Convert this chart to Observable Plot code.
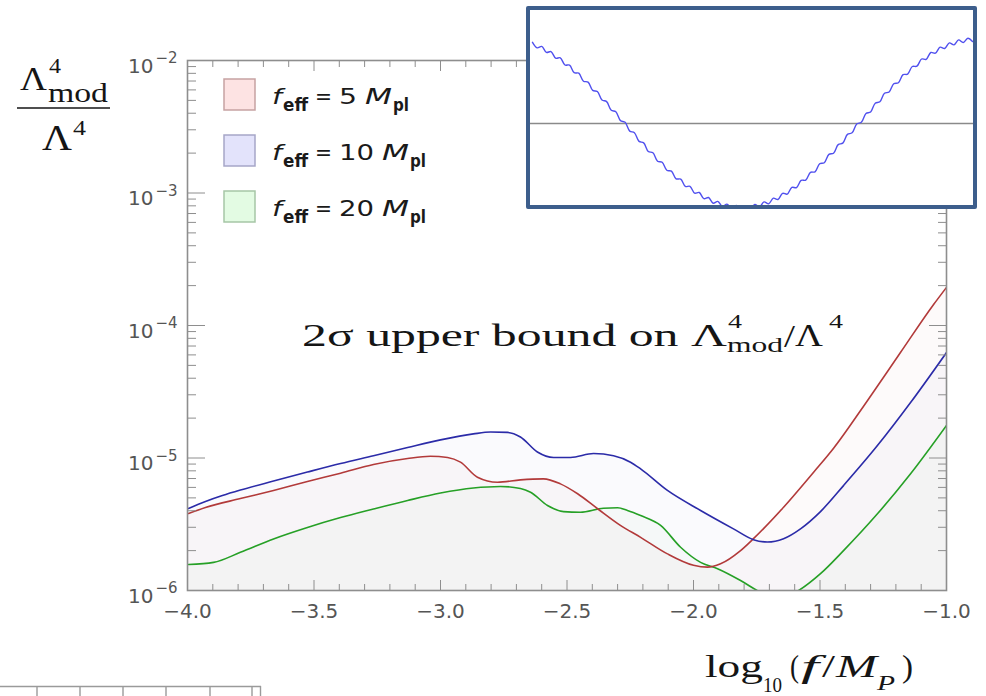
<!DOCTYPE html>
<html><head><meta charset="utf-8">
<script src="https://cdn.jsdelivr.net/npm/d3@7"></script>
<script src="https://cdn.jsdelivr.net/npm/@observablehq/plot@0.6"></script>
<style>
html,body{margin:0;padding:0;background:#fff;}
#wrap{position:relative;width:986px;height:696px;overflow:hidden;background:#fff;}
#main{position:absolute;left:0;top:0;}
#inset{position:absolute;z-index:2;left:526px;top:6px;width:451px;height:203px;box-sizing:border-box;border:4px solid #3d5e8c;border-radius:2px;background:#fff;overflow:hidden;}
#inset svg{display:block;}
</style></head><body>
<div id="wrap"><div id="main"></div><div id="inset"></div></div>
<script>
// ---------------- data ----------------
const seriesNames = ["5", "10", "20"]; // f_eff in M_pl

const redX = [-3.996,-3.929,-3.791,-3.660,-3.526,-3.395,-3.265,-3.130,-3.040,-2.972,-2.921,-2.854,-2.775,-2.684,-2.593,-2.526,-2.458,-2.379,-2.289,-2.209,-2.103,-2.000,-1.945,-1.893,-1.814,-1.763,-1.644,-1.526,-1.447,-1.312,-1.182,-1.051,-1.000];
const redY = [3.81e-6,4.23e-6,4.94e-6,5.69e-6,6.65e-6,7.68e-6,8.93e-6,9.91e-6,1.03e-5,1.01e-5,9.3e-6,7.16e-6,6.56e-6,6.84e-6,6.96e-6,6.38e-6,5.37e-6,4.14e-6,3.10e-6,2.52e-6,1.89e-6,1.55e-6,1.50e-6,1.59e-6,2.00e-6,2.46e-6,4.25e-6,7.78e-6,1.18e-5,2.72e-5,6.25e-5,1.44e-4,1.94e-4];

const blueX = [-3.996,-3.929,-3.862,-3.791,-3.660,-3.526,-3.395,-3.265,-3.130,-3.000,-2.870,-2.802,-2.735,-2.684,-2.617,-2.553,-2.486,-2.395,-2.316,-2.249,-2.209,-2.103,-1.972,-1.842,-1.763,-1.708,-1.644,-1.577,-1.498,-1.407,-1.273,-1.142,-1.000];
const blueY = [4.16e-6,4.70e-6,5.21e-6,5.73e-6,6.70e-6,7.83e-6,9.08e-6,1.04e-5,1.20e-5,1.37e-5,1.52e-5,1.57e-5,1.56e-5,1.44e-5,1.11e-5,1.01e-5,1.01e-5,1.08e-5,1.04e-5,9.3e-6,8.28e-6,5.69e-6,4.02e-6,2.92e-6,2.42e-6,2.32e-6,2.46e-6,2.92e-6,3.94e-6,6.19e-6,1.24e-5,2.62e-5,6.25e-5];

const greenX = [-3.996,-3.897,-3.791,-3.660,-3.526,-3.395,-3.265,-3.130,-3.000,-2.870,-2.763,-2.684,-2.644,-2.577,-2.514,-2.447,-2.356,-2.300,-2.261,-2.209,-2.130,-2.051,-1.972,-1.905,-1.814,-1.735,-1.668,-1.597,-1.498,-1.407,-1.273,-1.142,-1.000];
const greenY = [1.57e-6,1.63e-6,1.94e-6,2.45e-6,2.99e-6,3.55e-6,4.12e-6,4.78e-6,5.44e-6,5.94e-6,6.10e-6,5.89e-6,5.52e-6,4.38e-6,3.94e-6,3.90e-6,4.18e-6,4.21e-6,4.02e-6,3.68e-6,3.10e-6,2.12e-6,1.63e-6,1.46e-6,1.19e-6,9.7e-7,8.7e-7,9.7e-7,1.34e-6,2.00e-6,3.79e-6,7.60e-6,1.76e-5];

// inset wave (pixel-ish units relative to the horizontal axis line)
const waveY = [81.2,75.7,77.1,71.1,71.9,65.3,65.7,58.5,58.4,50.8,50.3,42.3,41.4,33.1,32.0,23.5,21.9,13.2,11.7,2.9,1.2,-7.6,-9.2,-17.9,-19.4,-28.0,-29.3,-37.7,-38.8,-46.8,-47.6,-55.3,-55.6,-62.9,-62.8,-69.6,-69.0,-75.2,-74.0,-79.7,-77.9,-83.0,-80.6,-85.0,-82.0,-85.8,-82.1,-85.3,-80.9,-83.4,-78.4,-80.3,-74.7,-76.0,-69.8,-70.6,-63.9,-64.1,-56.9,-56.6,-48.9,-48.3,-40.2,-39.2,-30.9,-29.7,-21.1,-19.6,-10.9,-9.3,-0.5,1.2,10.0,11.5,20.3,21.7,30.3,31.5,39.8,40.8,48.8,49.4,57.0,57.3,64.5,64.2,71.0,70.3,76.3,75.0,80.6,78.6,83.6,81.0,85.3,82.1];

const xTicksMajor = [-4.0,-3.5,-3.0,-2.5,-2.0,-1.5,-1.0];
const xTickLabels = ["\u22124.0","\u22123.5","\u22123.0","\u22122.5","\u22122.0","\u22121.5","\u22121.0"];
const xTicksMinor = [-3.9,-3.8,-3.7,-3.6,-3.4,-3.3,-3.2,-3.1,-2.9,-2.8,-2.7,-2.6,-2.4,-2.3,-2.2,-2.1,-1.9,-1.8,-1.7,-1.6,-1.4,-1.3,-1.2,-1.1];
const yTicksMajor = [1e-6,1e-5,1e-4,1e-3,1e-2];
const yTickBase = "10";
const yTickExponents = ["\u22126","\u22125","\u22124","\u22123","\u22122"];
const yTicksMinor = [1e-6,1e-5,1e-4,1e-3].flatMap(d => [2,3,4,5,6,7,8,9].map(m => m*d));

// ---------------- chart ----------------
const colors = {red: "#b23a3a", blue: "#2b2ba8", green: "#26a026"};
const mk = (xs, ys, s) => xs.map((x, i) => ({x, y: ys[i], s}));
const red = mk(redX, redY, seriesNames[0]);
const blue = mk(blueX, blueY, seriesNames[1]);
const green = mk(greenX, greenY, seriesNames[2]);
const FR = "#8e8e8e", TXT = "#555";
const sans = "DejaVu Sans", serif = "Liberation Serif";
const CURVE = "monotone-x";

const area = (d, c) => Plot.areaY(d, {x: "x", y1: () => 1e-6, y2: "y", fill: c, fillOpacity: 0.022, curve: CURVE, clip: true});
const line = (d, c) => Plot.line(d, {x: "x", y: "y", stroke: c, strokeWidth: 1.6, curve: CURVE, clip: true});

const plot = Plot.plot({
  width: 986, height: 696,
  marginLeft: 187, marginRight: 40, marginTop: 60, marginBottom: 106,
  style: {background: "transparent", fontFamily: sans, fontSize: "20px", color: TXT},
  x: {domain: [-4, -1], label: null},
  y: {type: "log", domain: [1e-6, 1e-2], label: null},
  marks: [
    area(green, colors.green), area(red, colors.red), area(blue, colors.blue),
    line(green, colors.green), line(red, colors.red), line(blue, colors.blue),
    Plot.axisX(xTicksMinor, {anchor: "bottom", tickSize: -6, tickFormat: () => "", stroke: FR, label: null}),
    Plot.axisX(xTicksMinor, {anchor: "top", tickSize: -6, tickFormat: () => "", stroke: FR, label: null}),
    Plot.axisX(xTicksMajor, {anchor: "top", tickSize: -10, tickFormat: () => "", stroke: FR, label: null}),
    Plot.axisX(xTicksMajor, {anchor: "bottom", tickSize: -10, tickPadding: 23, stroke: FR, fill: TXT, fontSize: 20,
      tickFormat: d => xTickLabels[xTicksMajor.indexOf(d)], label: null}),
    Plot.axisY(yTicksMinor, {anchor: "left", tickSize: -9, tickFormat: () => "", stroke: FR, label: null}),
    Plot.axisY(yTicksMinor, {anchor: "right", tickSize: -9, tickFormat: () => "", stroke: FR, label: null}),
    Plot.axisY(yTicksMajor, {anchor: "left", tickSize: -18, tickFormat: () => "", stroke: FR, label: null}),
    Plot.axisY(yTicksMajor, {anchor: "right", tickSize: -18, tickFormat: () => "", stroke: FR, label: null}),
    Plot.text(yTicksMajor, {y: d => d, text: () => yTickBase, frameAnchor: "left", textAnchor: "end", dx: -34, dy: 6, fontSize: 20, fill: TXT}),
    Plot.text(yTicksMajor, {y: d => d, text: (d, i) => yTickExponents[i], frameAnchor: "left", textAnchor: "end", dx: -10, dy: -2, fontSize: 15, fill: TXT}),
    Plot.frame({stroke: FR, strokeWidth: 1.6})
  ]
});
document.getElementById("main").appendChild(plot);

const svg = d3.select(plot);
// one <text> element with positioned pieces (tspans)
function label(pieces, o = {}) {
  const t = svg.append("text").attr("font-family", o.family || serif).attr("fill", o.fill || "#151515")
    .attr("text-anchor", "start");
  pieces.forEach(p => {
    const s = t.append("tspan").attr("x", p.x).attr("y", p.y).attr("font-size", p.size).text(p.s);
    if (p.italic) s.attr("font-style", "italic");
    if (p.bold) s.attr("font-weight", "bold");
    if (p.len) s.attr("textLength", p.len).attr("lengthAdjust", "spacingAndGlyphs");
  });
  return t;
}

// y-axis fraction label
label([
  {x: 20, y: 90, s: "\u039B", size: 34, len: 27},
  {x: 49, y: 73, s: "4", size: 22, len: 12},
  {x: 48, y: 102, s: "mod", size: 28, len: 60},
]);
svg.append("line").attr("x1", 17).attr("x2", 110).attr("y1", 108).attr("y2", 108).attr("stroke", "#151515").attr("stroke-width", 1.6);
label([
  {x: 42, y: 150, s: "\u039B", size: 36, len: 30},
  {x: 73, y: 135, s: "4", size: 22, len: 13},
]);

// annotation
label([
  {x: 302, y: 346, s: "2\u03C3 upper bound on \u039B", size: 31, len: 425},
  {x: 728, y: 328, s: "4", size: 19, len: 14},
  {x: 727, y: 352, s: "mod", size: 21, len: 56},
  {x: 784, y: 347, s: "/", size: 31, len: 11},
  {x: 795, y: 346, s: "\u039B", size: 31, len: 28},
  {x: 829, y: 328, s: "4", size: 19, len: 14},
]);

// x-axis label
label([
  {x: 705, y: 677, s: "log", size: 32, len: 58},
  {x: 763, y: 692, s: "10", size: 20, len: 19},
  {x: 790, y: 677, s: "(", size: 32, len: 9},
  {x: 801, y: 677, s: "f", size: 32, italic: true, len: 18},
  {x: 822, y: 677, s: "/", size: 32, len: 13},
  {x: 836, y: 677, s: "M", size: 32, italic: true, len: 41},
  {x: 877, y: 690, s: "P", size: 21, italic: true, len: 18},
  {x: 902, y: 677, s: ")", size: 32, len: 11},
]);

// legend
const legendFill = ["#fde3e3", "#e3e3fb", "#e3fbe3"];
const legendStroke = ["#c6a2a2", "#a6a6c8", "#a6c6a6"];
seriesNames.forEach((v, i) => {
  const top = 79 + 56 * i, b = 104 + 56 * i;
  svg.append("rect").attr("x", 224).attr("y", top).attr("width", 31).attr("height", 31)
    .attr("fill", legendFill[i]).attr("stroke", legendStroke[i]).attr("stroke-width", 1.5);
  const w = v.length === 1 ? 18 : 35;
  const mx = v.length === 1 ? 365 : 382;
  label([
    {x: 272, y: b, s: "f", size: 22, italic: true, len: 10},
    {x: 283, y: b + 7, s: "eff", size: 17, bold: true, len: 25},
    {x: 315, y: b, s: "=", size: 22, len: 17},
    {x: 339, y: b, s: v, size: 22, len: w},
    {x: mx, y: b, s: "M", size: 22, italic: true, len: 27},
    {x: mx + 28, y: b + 7, s: "pl", size: 17, bold: true, len: 16},
  ], {family: sans, fill: "#1a1a1a"});
});

// cropped frame fragment at the bottom-left edge
const frag = svg.append("g").attr("stroke", "#9a9a9a").attr("stroke-width", 1.4).attr("fill", "none");
frag.append("line").attr("x1", 0).attr("x2", 261).attr("y1", 686.5).attr("y2", 686.5);
frag.append("line").attr("x1", 260.5).attr("x2", 260.5).attr("y1", 686).attr("y2", 696);
[37, 80, 123, 166, 210].forEach(x => frag.append("line").attr("x1", x).attr("x2", x).attr("y1", 686).attr("y2", 696));
frag.append("line").attr("x1", 252).attr("x2", 252).attr("y1", 686).attr("y2", 696);

// ---------------- inset ----------------
const inset = Plot.plot({
  width: 443, height: 195, margin: 0,
  style: {background: "#fff"},
  x: {domain: [0, waveY.length - 1], range: [2, 442], axis: null},
  y: {domain: [-82, 113], axis: null},
  marks: [
    Plot.ruleY([0], {stroke: "#8a8a8a", strokeWidth: 1.3}),
    Plot.line(waveY, {x: (d, i) => i, y: d => d, curve: "catmull-rom", stroke: "#5050ee", strokeWidth: 1.4, clip: true})
  ]
});
document.getElementById("inset").appendChild(inset);
</script>
</body></html>
